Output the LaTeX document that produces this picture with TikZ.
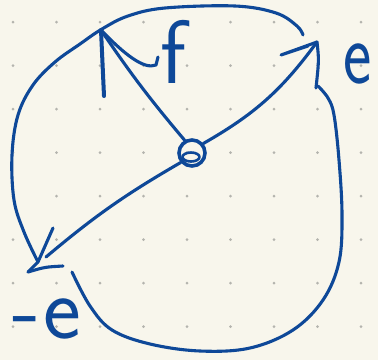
\documentclass[tikz,border=0pt]{standalone}
\usetikzlibrary{shapes.geometric}
\definecolor{paper}{RGB}{248,246,236}
\definecolor{ink}{RGB}{14,72,152}
\definecolor{dotc}{RGB}{180,180,174}
\begin{document}
\begin{tikzpicture}[x=1pt,y=-1pt,
  pen/.style={draw=ink,line width=3.1pt,line cap=round,line join=round},
  lbl/.style={text=ink,font=\sffamily\fontsize{90}{90}\selectfont,inner sep=0pt}]
\fill[paper] (0,0) rectangle (378,360);
\useasboundingbox (0,0) rectangle (378,360);
\foreach \x in {13,56.5,...,362} \foreach \y in {22,65.5,...,330} \fill[dotc] (\x,\y) circle (1.5pt);
% outer hand-drawn circle
\draw[pen] plot[smooth, tension=0.6] coordinates {(38,262) (24,232) (14,200) (12,155) (18,115) (33,85) (55,62) (80,44) (102,29) (128,16) (165,8) (235,6) (276,13) (297,26) (303,35)};
\draw[pen] plot[smooth, tension=0.6] coordinates {(318,86) (328,98) (334,115) (339,160) (342,215) (339,262) (323,300) (293,330) (250,348) (200,351) (150,344) (112,330) (90,306) (72,272)};
% centre
\node[pen, circle, minimum size=26pt, inner sep=0pt, line width=3.6pt] (o) at (192,153) {};
\node[pen, ellipse, minimum width=17pt, minimum height=9pt, inner sep=0pt, line width=2.6pt] (oi) at (191,157) {};
% tips
\coordinate (ftip) at (101,30);
\coordinate (etip) at (317,42);
\coordinate (mtip) at (28,272);
\coordinate (mend) at (46,257);
% f arrow
\draw[pen] (o.120) to[bend left=3] (ftip);
\draw[pen, line width=4pt] (ftip) -- ++(3,66);
\draw[pen] (ftip) .. controls (124,54) and (144,70) .. (156,65) -- (158,57);
% e arrow
\draw[pen] (o.40) to[bend right=12] (etip);
\fill[ink] (etip) -- (281,55) -- (306,46) -- cycle;
\draw[pen] (etip) -- (281,55) -- (308,46);
\draw[pen] (etip) .. controls (319,60) .. (316,88);
% -e arrow
\draw[pen] (o.220) to[bend right=5] (mend);
\draw[pen] (53,228) .. controls (46,245) .. (38,262) -- (mtip);
\draw[pen] (mtip) .. controls (45,267) .. (63,266);
% labels
\node[lbl, anchor=base west] (f) at (160,83) {f};
\node[lbl, anchor=base west, xscale=0.75] (e) at (343,83) {e};
\node[lbl, anchor=base west] (me) at (12,338) {-\hspace{3pt}e};
\end{tikzpicture}
\end{document}
